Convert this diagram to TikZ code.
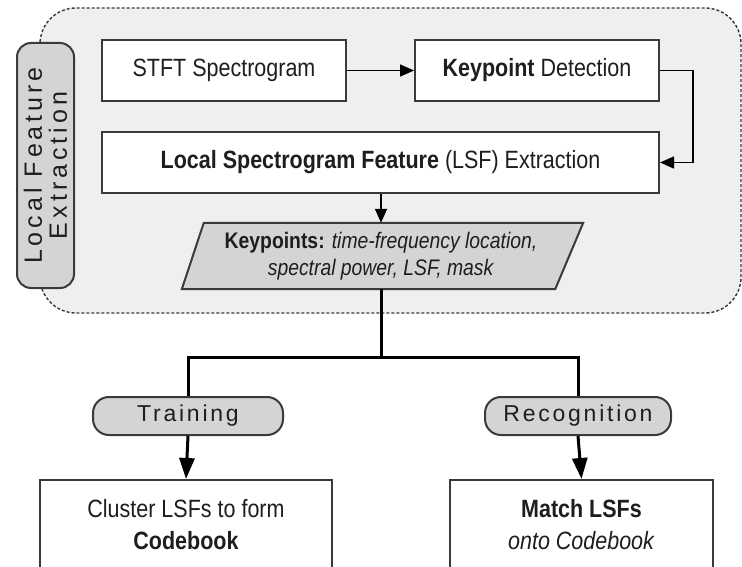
\documentclass[tikz,border=0pt]{standalone}
\usepackage{fontspec}
\setmainfont[FakeStretch=0.86]{Liberation Sans}
\newfontfamily\pillfont[LetterSpace=12]{Liberation Sans}
\newfontfamily\sidefont[LetterSpace=16]{Liberation Sans}
\usetikzlibrary{arrows.meta}

\definecolor{txt}{HTML}{1E1E1E}
\definecolor{edge}{HTML}{3A3A3A}
\definecolor{panel}{HTML}{EFEFEF}
\definecolor{tag}{HTML}{D4D4D4}

\begin{document}
\begin{tikzpicture}[x=1pt,y=-1pt,
  stepbox/.style={draw=edge, line width=2pt, fill=white, text=txt,
    inner sep=0pt, font=\fontsize{25}{32}\selectfont, align=center},
  pill/.style={draw=edge, line width=2pt, fill=tag, text=txt,
    rounded corners=16pt, inner sep=0pt, font=\pillfont\fontsize{23}{26}\selectfont},
  thin/.style={draw=black, line width=1.5pt, -{Triangle[length=14pt,width=12pt]}},
  thick/.style={draw=black, line width=3pt},
  thickarrow/.style={thick, -{Triangle[length=21pt,width=15pt]}}
]
\useasboundingbox (0,0) rectangle (742,567);
\fill[white] (0,0) rectangle (742,567);

% feature-extraction panel
\draw[edge, line width=1.4pt, dash pattern=on 3pt off 2pt, fill=panel,
  rounded corners=36pt] (40,8) rectangle (741,313);

% side label
\node[draw=edge, line width=2pt, fill=tag, rounded corners=14pt, rotate=90,
  minimum width=245pt, minimum height=57pt, inner sep=0pt, text=txt,
  align=center, font=\sidefont\fontsize{25}{25}\selectfont]
  (lfe) at (45.5,165.5) {Local Feature\\Extraction};

% processing steps
\node[stepbox, minimum width=244pt, minimum height=61pt] (stft) at (224,70.5) {STFT Spectrogram};
\node[stepbox, minimum width=244pt, minimum height=61pt] (kd) at (537,70.5) {\textbf{Keypoint} Detection};
\node[stepbox, minimum width=557pt, minimum height=61pt] (lsf) at (380.5,162.5)
  {\textbf{Local Spectrogram Feature} (LSF) Extraction};

% keypoint data (parallelogram)
\node[minimum width=376pt, minimum height=66pt, inner sep=0pt] (kp) at (381,256) {};
\draw[edge, line width=2pt, fill=tag]
  ([xshift=11pt]kp.north west) -- ([xshift=14pt]kp.north east)
  -- ([xshift=-14pt]kp.south east) -- ([xshift=-11pt]kp.south west) -- cycle;
\node[text=txt, align=center, font=\fontsize{22.5}{27}\selectfont, inner sep=0pt]
  at (kp.center) {\textbf{Keypoints:} \textit{time-frequency location,}\\\textit{spectral power, LSF, mask}};

% branches
\node[pill, minimum width=190pt, minimum height=38pt] (train) at (188,416) {Training};
\node[pill, minimum width=186pt, minimum height=38pt] (recog) at (578,416) {Recognition};

\node[stepbox, minimum width=292pt, minimum height=90pt] (clus) at (186,525)
  {Cluster LSFs to form\\\textbf{Codebook}};
\node[stepbox, minimum width=263pt, minimum height=90pt] (match) at (581.5,525)
  {\textbf{Match LSFs}\\\textit{onto Codebook}};

% connectors
\draw[thin] (stft) -- (kd);
\draw[thin] (kd.east) -- ++(33,0) |- (lsf.east);
\draw[thin] (lsf.south -| kp.north) -- (kp.north);

\coordinate (split) at (381,357);
\draw[thick] (kp.south) -- (split);
\draw[thick] (train.north) |- (split) -| (recog.north);
\draw[thickarrow] (train.south) -- (clus.north);
\draw[thickarrow] (recog.south) -- (match.north);
\end{tikzpicture}
\end{document}
